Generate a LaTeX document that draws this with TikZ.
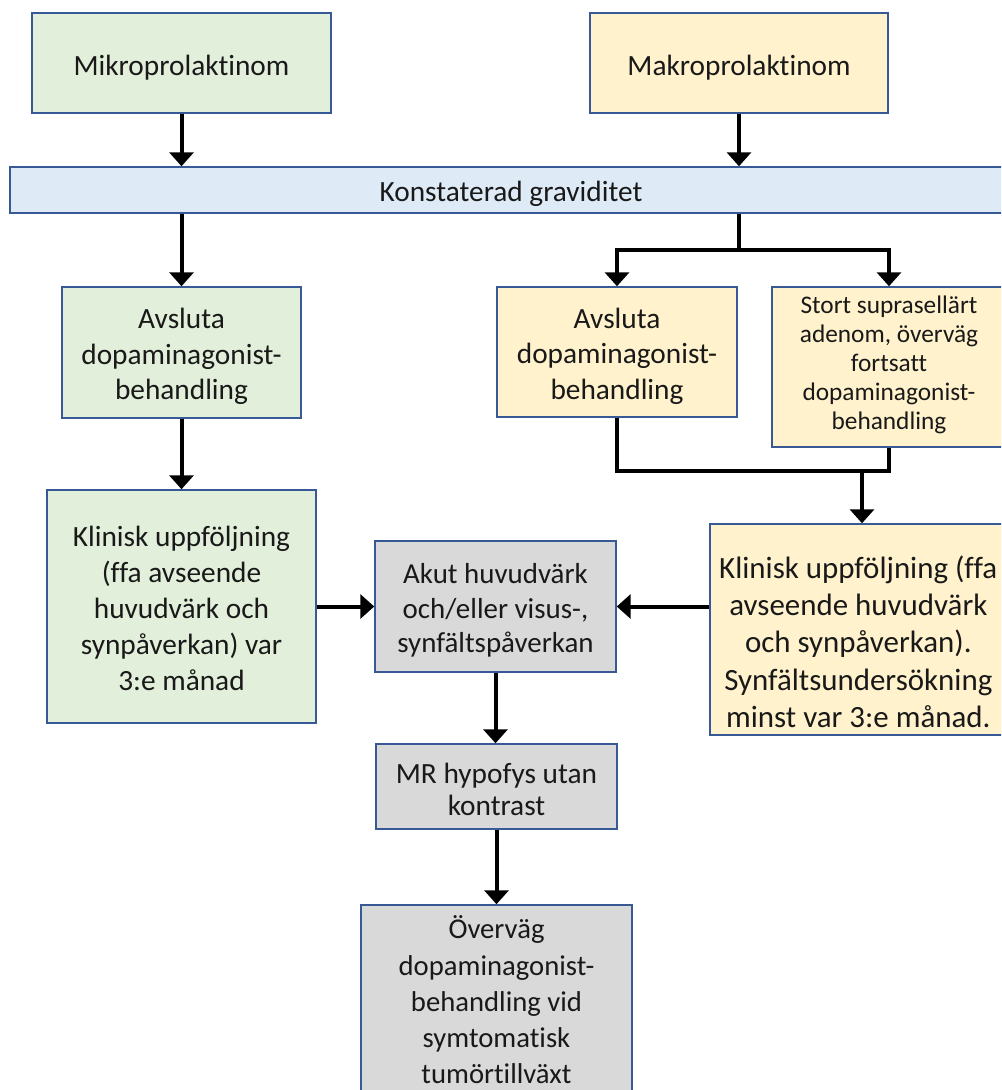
\documentclass[tikz,border=0pt]{standalone}
\usepackage{fontspec}
\setmainfont{Carlito}[RawFeature={-liga}]
\usetikzlibrary{arrows.meta}
\definecolor{bordc}{RGB}{55,90,150}
\definecolor{gfill}{RGB}{226,239,218}
\definecolor{yfill}{RGB}{255,242,204}
\definecolor{bfill}{RGB}{222,235,247}
\definecolor{grfill}{RGB}{217,217,217}
\tikzset{
  box/.style={draw=bordc, line width=1.1pt, inner sep=0pt},
  txt/.style={align=center, inner sep=0pt, text=black!90, font=\fontsize{22}{26.5}\selectfont},
  gbox/.style={box, fill=gfill},
  ybox/.style={box, fill=yfill},
  bbox/.style={box, fill=bfill},
  grbox/.style={box, fill=grfill},
  sz/.style 2 args={minimum width={#1*0.75pt}, minimum height={#2*0.75pt}},
  dn/.style={yshift={-#1*0.75pt}},
  conn/.style={line width=3pt, black},
  arr/.style={conn, -{Triangle[width=18pt,length=10.5pt]}},
}
\begin{document}
\begin{tikzpicture}[x=0.75pt,y=-0.75pt]
\useasboundingbox (0,0) rectangle (1001,1090);
\clip (0,0) rectangle (1001,1090);
% boxes
\node[gbox,sz={299}{100}] (mikro) at (181.5,63) {};
\node[ybox,sz={298}{100}] (makro) at (739,63) {};
\node[bbox,sz={1002}{46}] (bar) at (511,190) {};
\node[gbox,sz={239}{131}] (avL) at (181.5,352.5) {};
\node[ybox,sz={240}{130}] (avR) at (617,352) {};
\node[ybox,sz={234}{160}] (stort) at (889,367) {};
\node[gbox,sz={269}{233}] (kliL) at (181.5,606.5) {};
\node[grbox,sz={241}{131}] (akut) at (495.5,606.5) {};
\node[ybox,sz={302}{211}] (kliR) at (861,629.5) {};
\node[grbox,sz={241}{85}] (mr) at (496.5,786.5) {};
\node[grbox,sz={271}{196}] (overv) at (496.5,1003) {};
% texts
\node[txt] (mikroT) at ([dn=5]mikro.center) {Mikroprolaktinom};
\node[txt] (makroT) at ([dn=5]makro.center) {Makroprolaktinom};
\node[txt] (barT) at ([dn=4]bar.center) {Konstaterad graviditet};
\node[txt] (avLT) at ([dn=4]avL.center) {Avsluta\\dopaminagonist-\\behandling};
\node[txt] (avRT) at ([dn=4]avR.center) {Avsluta\\dopaminagonist-\\behandling};
\node[txt,font=\fontsize{19}{21.75}\selectfont] (stortT) at ([dn=-2]stort.center) {Stort suprasellärt\\adenom, överväg\\fortsatt\\dopaminagonist-\\behandling};
\node[txt,font=\fontsize{22}{27}\selectfont] (kliLT) at ([dn=2]kliL.center) {Klinisk uppföljning\\(ffa avseende\\huvudvärk och\\synpåverkan) var\\3:e månad};
\node[txt,font=\fontsize{21.7}{25.9}\selectfont] (akutT) at ([dn=4]akut.center) {Akut huvudvärk\\och/eller visus-,\\synfältspåverkan};
\node[txt,font=\fontsize{23.2}{28}\selectfont] (kliRT) at ([dn=12,xshift=-2pt]kliR.center) {Klinisk uppföljning (ffa\\avseende huvudvärk\\och synpåverkan).\\Synfältsundersökning\\minst var 3:e månad.};
\node[txt,font=\fontsize{22}{24}\selectfont] (mrT) at ([dn=3]mr.center) {MR hypofys utan\\kontrast};
\node[txt,font=\fontsize{21.5}{27.2}\selectfont] (overvT) at ([dn=-3]overv.center) {Överväg\\dopaminagonist-\\behandling vid\\symtomatisk\\tumörtillväxt};
% connectors
\coordinate (split) at (739,250);
\coordinate (merge) at (862,471);
\draw[arr] (mikro.south) -- (mikro.south |- bar.north);
\draw[arr] (makro.south) -- (makro.south |- bar.north);
\draw[arr] (avL.north |- bar.south) -- (avL.north);
\draw[conn] (makro.south |- bar.south) -- (split);
\draw[arr] (split) -| (avR.north);
\draw[arr] (split) -| (stort.north);
\draw[arr] (avL.south) -- (kliL.north);
\draw[conn] (avR.south) |- (stort.south |- merge) -- (stort.south);
\draw[arr] (merge) -- (merge |- kliR.north);
\draw[arr] (kliL.east) -- (akut.west);
\draw[arr] (kliR.west |- akut.east) -- (akut.east);
\draw[arr] (akut.south) -- (akut.south |- mr.north);
\draw[arr] (mr.south) -- (mr.south |- overv.north);
\end{tikzpicture}
\end{document}
